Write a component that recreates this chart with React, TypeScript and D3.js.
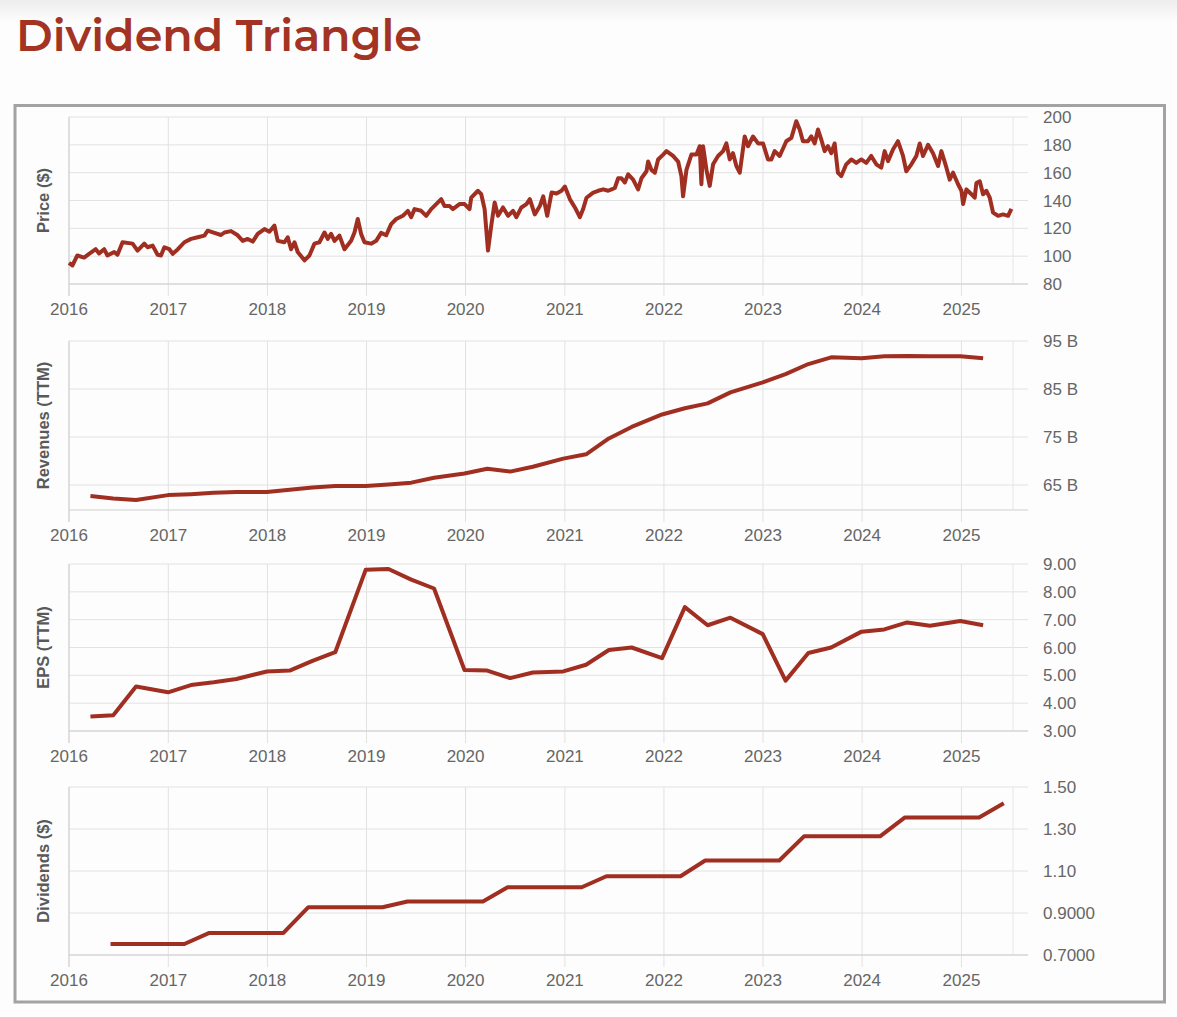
import React from "react";
import * as d3 from "d3";

// ---------- DATA ----------
const priceYears = [
  2016.000, 2016.034, 2016.084, 2016.152, 2016.202, 2016.269, 2016.303, 2016.354, 2016.387, 2016.455,
  2016.488, 2016.539, 2016.640, 2016.690, 2016.758, 2016.791, 2016.842, 2016.892, 2016.926, 2016.960,
  2017.010, 2017.044, 2017.094, 2017.162, 2017.229, 2017.296, 2017.364, 2017.397, 2017.465, 2017.532,
  2017.566, 2017.633, 2017.700, 2017.751, 2017.801, 2017.852, 2017.902, 2017.970, 2018.020, 2018.071,
  2018.104, 2018.172, 2018.205, 2018.239, 2018.273, 2018.306, 2018.374, 2018.424, 2018.475, 2018.525,
  2018.576, 2018.609, 2018.643, 2018.677, 2018.727, 2018.778, 2018.845, 2018.879, 2018.912, 2018.946,
  2018.980, 2019.047, 2019.098, 2019.148, 2019.199, 2019.249, 2019.300, 2019.367, 2019.418, 2019.451,
  2019.485, 2019.552, 2019.603, 2019.653, 2019.704, 2019.754, 2019.788, 2019.838, 2019.872, 2019.939,
  2019.990, 2020.040, 2020.057, 2020.125, 2020.158, 2020.192, 2020.226, 2020.259, 2020.293, 2020.327,
  2020.377, 2020.428, 2020.478, 2020.512, 2020.562, 2020.613, 2020.647, 2020.697, 2020.748, 2020.782,
  2020.822, 2020.866, 2020.916, 2020.966, 2021.000, 2021.050, 2021.101, 2021.151, 2021.185, 2021.218,
  2021.286, 2021.336, 2021.387, 2021.437, 2021.471, 2021.504, 2021.538, 2021.571, 2021.605, 2021.639,
  2021.689, 2021.739, 2021.773, 2021.824, 2021.840, 2021.874, 2021.908, 2021.941, 2021.992, 2022.025,
  2022.092, 2022.143, 2022.176, 2022.193, 2022.227, 2022.277, 2022.328, 2022.361, 2022.378, 2022.395,
  2022.429, 2022.462, 2022.496, 2022.546, 2022.597, 2022.630, 2022.664, 2022.697, 2022.731, 2022.765,
  2022.815, 2022.849, 2022.899, 2022.950, 2023.000, 2023.050, 2023.084, 2023.118, 2023.168, 2023.235,
  2023.286, 2023.336, 2023.370, 2023.403, 2023.454, 2023.487, 2023.521, 2023.555, 2023.588, 2023.622,
  2023.655, 2023.689, 2023.723, 2023.756, 2023.790, 2023.840, 2023.891, 2023.941, 2023.992, 2024.042,
  2024.092, 2024.143, 2024.193, 2024.227, 2024.261, 2024.311, 2024.361, 2024.412, 2024.445, 2024.496,
  2024.546, 2024.580, 2024.613, 2024.664, 2024.714, 2024.765, 2024.798, 2024.849, 2024.882, 2024.916,
  2024.966, 2025.000, 2025.017, 2025.050, 2025.101, 2025.134, 2025.151, 2025.185, 2025.218, 2025.252,
  2025.286, 2025.319, 2025.370, 2025.420, 2025.471, 2025.504,
];
const priceValues = [
  95.2, 93.3, 100.5, 99, 101.7, 105, 102, 105, 100.5, 103,
  101, 110, 109, 104, 109, 106.4, 107.6, 101, 100.5, 106.4,
  105, 101.7, 104.8, 110, 112.4, 113.6, 114.8, 118.3, 116.7, 115.2,
  117, 118, 115, 111, 112.4, 110.5, 116, 119.5, 117.6, 122,
  111, 110, 113.6, 105, 110, 103, 97, 100.5, 109, 110,
  117, 112.4, 116, 111, 114.8, 105, 111, 117, 126.7, 116,
  110, 109, 111, 116.7, 115, 123, 126.7, 129, 132.6, 128,
  133.8, 132.6, 129, 133.8, 137.4, 141, 136, 136, 133.8, 137.4,
  137.4, 133.8, 142, 147, 144.5, 133.8, 104, 122, 138.6, 129,
  135, 129, 132.6, 128, 135, 137.4, 141, 130, 136, 143,
  129, 145.7, 145, 147, 150, 141, 135, 128, 134, 142,
  145.7, 147, 148, 147, 148, 149, 156, 156, 153, 158.8,
  155, 148, 156, 161, 168, 162, 160, 169.5, 173, 175.5,
  172, 168, 157.6, 143, 162, 173, 173, 179, 151.7, 179,
  162, 150.5, 166, 172, 175.5, 181, 169.5, 174, 164.8, 160,
  186, 179, 186, 181, 181, 169.5, 169.5, 175.5, 172, 182.6,
  185, 197, 191, 182.6, 182.6, 186, 181, 191, 183.8, 175.5,
  179, 174, 181, 160, 157.6, 166, 169.5, 167, 169.5, 167,
  172, 166, 163.6, 175.5, 168.3, 176.7, 182.6, 172, 161, 166,
  172, 181, 172, 180, 174, 164.8, 175.5, 163.6, 155, 160,
  151.7, 147, 137.4, 148, 144.5, 142, 152.6, 153.8, 144.5, 147,
  142, 131.4, 129, 130, 129, 134,
];

const quarterDates = [
  "2016-03-20", "2016-06-12", "2016-09-04", "2016-12-31",
  "2017-03-25", "2017-06-17", "2017-09-09", "2017-12-30",
  "2018-03-24", "2018-06-16", "2018-09-08", "2018-12-29",
  "2019-03-23", "2019-06-15", "2019-09-07", "2019-12-28",
  "2020-03-21", "2020-06-13", "2020-09-05", "2020-12-26",
  "2021-03-20", "2021-06-12", "2021-09-04", "2021-12-25",
  "2022-03-19", "2022-06-11", "2022-09-03", "2022-12-31",
  "2023-03-25", "2023-06-17", "2023-09-09", "2023-12-30",
  "2024-03-23", "2024-06-15", "2024-09-07", "2024-12-28",
  "2025-03-22",
];
const revenueValues = [
  62.7, 62.2, 61.9, 62.9,
  63.1, 63.4, 63.55, 63.55,
  64.0, 64.5, 64.8, 64.8,
  65.1, 65.5, 66.5, 67.4,
  68.4, 67.8, 68.8, 70.5,
  71.4, 74.7, 77.1, 79.7,
  81.0, 82.0, 84.3, 86.4,
  88.1, 90.2, 91.6, 91.4,
  91.8, 91.9, 91.8, 91.8,
  91.4,
];
const epsValues = [
  3.52, 3.57, 4.6, 4.39,
  4.65, 4.75, 4.87, 5.14,
  5.17, 5.52, 5.83, 8.79,
  8.82, 8.44, 8.12, 5.19,
  5.17, 4.9, 5.1, 5.14,
  5.38, 5.91, 6.0, 5.62,
  7.45, 6.8, 7.07, 6.48,
  4.81, 5.8, 6.0, 6.57,
  6.65, 6.9, 6.78, 6.95,
  6.8,
];

const dividendDates = [
  "2016-06-02", "2016-09-01", "2016-12-01",
  "2017-03-01", "2017-06-01", "2017-09-01", "2017-12-01",
  "2018-03-01", "2018-06-01", "2018-09-01", "2018-12-01",
  "2019-03-01", "2019-06-01", "2019-09-01", "2019-12-01",
  "2020-03-05", "2020-06-04", "2020-09-03", "2020-12-03",
  "2021-03-04", "2021-06-03", "2021-09-02", "2021-12-02",
  "2022-03-03", "2022-06-02", "2022-09-01", "2022-12-01",
  "2023-03-02", "2023-06-01", "2023-09-01", "2023-12-01",
  "2024-03-07", "2024-06-07", "2024-09-06", "2024-12-06",
  "2025-03-07", "2025-06-06",
];
const dividendValues = [
  0.7525, 0.7525, 0.7525,
  0.7525, 0.805, 0.805, 0.805,
  0.805, 0.9275, 0.9275, 0.9275,
  0.9275, 0.955, 0.955, 0.955,
  0.955, 1.0225, 1.0225, 1.0225,
  1.0225, 1.075, 1.075, 1.075,
  1.075, 1.15, 1.15, 1.15,
  1.15, 1.265, 1.265, 1.265,
  1.265, 1.355, 1.355, 1.355,
  1.355, 1.4225,
];

const yearTicks = [2016, 2017, 2018, 2019, 2020, 2021, 2022, 2023, 2024, 2025];
const xStart = "2016-01-01";
const xEnd = "2025-07-10";

const priceTicks = [80, 100, 120, 140, 160, 180, 200];
const priceTickLabels = ["80", "100", "120", "140", "160", "180", "200"];
const revenueTicks = [65, 75, 85, 95];
const revenueTickLabels = ["65 B", "75 B", "85 B", "95 B"];
const epsTicks = [3, 4, 5, 6, 7, 8, 9];
const epsTickLabels = ["3.00", "4.00", "5.00", "6.00", "7.00", "8.00", "9.00"];
const dividendTicks = [0.7, 0.9, 1.1, 1.3, 1.5];
const dividendTickLabels = ["0.7000", "0.9000", "1.10", "1.30", "1.50"];

// ---------- HELPERS ----------
const parse = (s: string) => new Date(s + "T00:00:00Z");
const decYear = (d: number) => {
  const y = Math.floor(d);
  const a = Date.UTC(y, 0, 1);
  const b = Date.UTC(y + 1, 0, 1);
  return new Date(a + (d - y) * (b - a));
};

const LINE = "#a02f22";
const FONT = "Arial, 'Liberation Sans', sans-serif";
const PLOT_L = 69;
const PLOT_R = 1013;
const GRID_R = 1028;

const xScale = d3.scaleUtc().domain([parse(xStart), parse(xEnd)]).range([PLOT_L, PLOT_R]);

type Pt = { d: Date; v: number };

function Panel(props: {
  top: number;
  bottom: number;
  domain: [number, number];
  ticks: number[];
  labels: string[];
  title: string;
  data: Pt[];
  width: number;
}) {
  const { top, bottom, domain, ticks, labels, title, data, width } = props;
  const y = d3.scaleLinear().domain(domain).range([bottom, top]);
  const line = d3
    .line<Pt>()
    .x((p) => xScale(p.d))
    .y((p) => y(p.v));
  const cy = (top + bottom) / 2;
  return (
    <g>
      {ticks.map((t, i) => (
        <line key={"h" + i} x1={PLOT_L} x2={GRID_R} y1={y(t)} y2={y(t)} stroke="#e2e2e2" strokeWidth={1} />
      ))}
      {yearTicks.map((yr) => {
        const x = xScale(new Date(Date.UTC(yr, 0, 1)));
        return <line key={"v" + yr} x1={x} x2={x} y1={top} y2={bottom + 12} stroke="#e2e2e2" strokeWidth={1} />;
      })}
      <line x1={PLOT_R} x2={PLOT_R} y1={top} y2={bottom} stroke="#e6e6e6" strokeWidth={1} />
      <line x1={PLOT_L} x2={GRID_R} y1={bottom} y2={bottom} stroke="#cfcfcf" strokeWidth={1} />
      <line x1={PLOT_L} x2={PLOT_L} y1={top} y2={bottom + 12} stroke="#cfcfcf" strokeWidth={1} />
      <path
        d={line(data) || ""}
        fill="none"
        stroke={LINE}
        strokeWidth={width}
        strokeLinejoin="round"
        strokeLinecap="butt"
      />
      {ticks.map((t, i) => (
        <text key={"yl" + i} x={1043} y={y(t)} dy="0.36em" fontFamily={FONT} fontSize={17} fill="#666">
          {labels[i]}
        </text>
      ))}
      {yearTicks.map((yr) => (
        <text
          key={"xl" + yr}
          x={xScale(new Date(Date.UTC(yr, 0, 1)))}
          y={bottom + 31}
          textAnchor="middle"
          fontFamily={FONT}
          fontSize={17}
          fill="#666"
        >
          {String(yr)}
        </text>
      ))}
      <text
        transform={`translate(43, ${cy}) rotate(-90)`}
        textAnchor="middle"
        dy="0.36em"
        fontFamily={FONT}
        fontSize={16.5}
        fontWeight="bold"
        fill="#595959"
      >
        {title}
      </text>
    </g>
  );
}

export default function App() {
  const priceData: Pt[] = priceYears.map((yr, i) => ({ d: decYear(yr), v: priceValues[i] }));
  const revenueData: Pt[] = quarterDates.map((s, i) => ({ d: parse(s), v: revenueValues[i] }));
  const epsData: Pt[] = quarterDates.map((s, i) => ({ d: parse(s), v: epsValues[i] }));
  const dividendData: Pt[] = dividendDates.map((s, i) => ({ d: parse(s), v: dividendValues[i] }));

  return (
    <svg width={1177} height={1017} style={{ position: "absolute", left: 0, top: 0, display: "block" }}>
      <defs>
        <linearGradient id="topfade" x1="0" y1="0" x2="0" y2="1">
          <stop offset="0" stopColor="#ededed" />
          <stop offset="1" stopColor="#fdfdfd" />
        </linearGradient>
      </defs>
      <rect x={0} y={0} width={1177} height={1017} fill="#fdfdfd" />
      <rect x={0} y={0} width={1177} height={22} fill="url(#topfade)" />
      <text
        x={16}
        y={51}
        fontFamily="Montserrat, 'Open Sans', sans-serif"
        fontSize={45}
        fontWeight={600}
        fill="#a33323"
        textLength={406}
        lengthAdjust="spacingAndGlyphs"
      >
        Dividend Triangle
      </text>
      <rect x={15} y={105.5} width={1149.5} height={896.5} fill="#fdfdfd" stroke="#a3a3a3" strokeWidth={3} />
      <Panel top={117} bottom={284} domain={[80, 200]} ticks={priceTicks} labels={priceTickLabels} title="Price ($)" data={priceData} width={4} />
      <Panel top={341} bottom={510} domain={[59.8, 95]} ticks={revenueTicks} labels={revenueTickLabels} title="Revenues (TTM)" data={revenueData} width={4} />
      <Panel top={564} bottom={731} domain={[3, 9]} ticks={epsTicks} labels={epsTickLabels} title="EPS (TTM)" data={epsData} width={4} />
      <Panel top={787} bottom={955} domain={[0.7, 1.5]} ticks={dividendTicks} labels={dividendTickLabels} title="Dividends ($)" data={dividendData} width={4} />
    </svg>
  );
}
